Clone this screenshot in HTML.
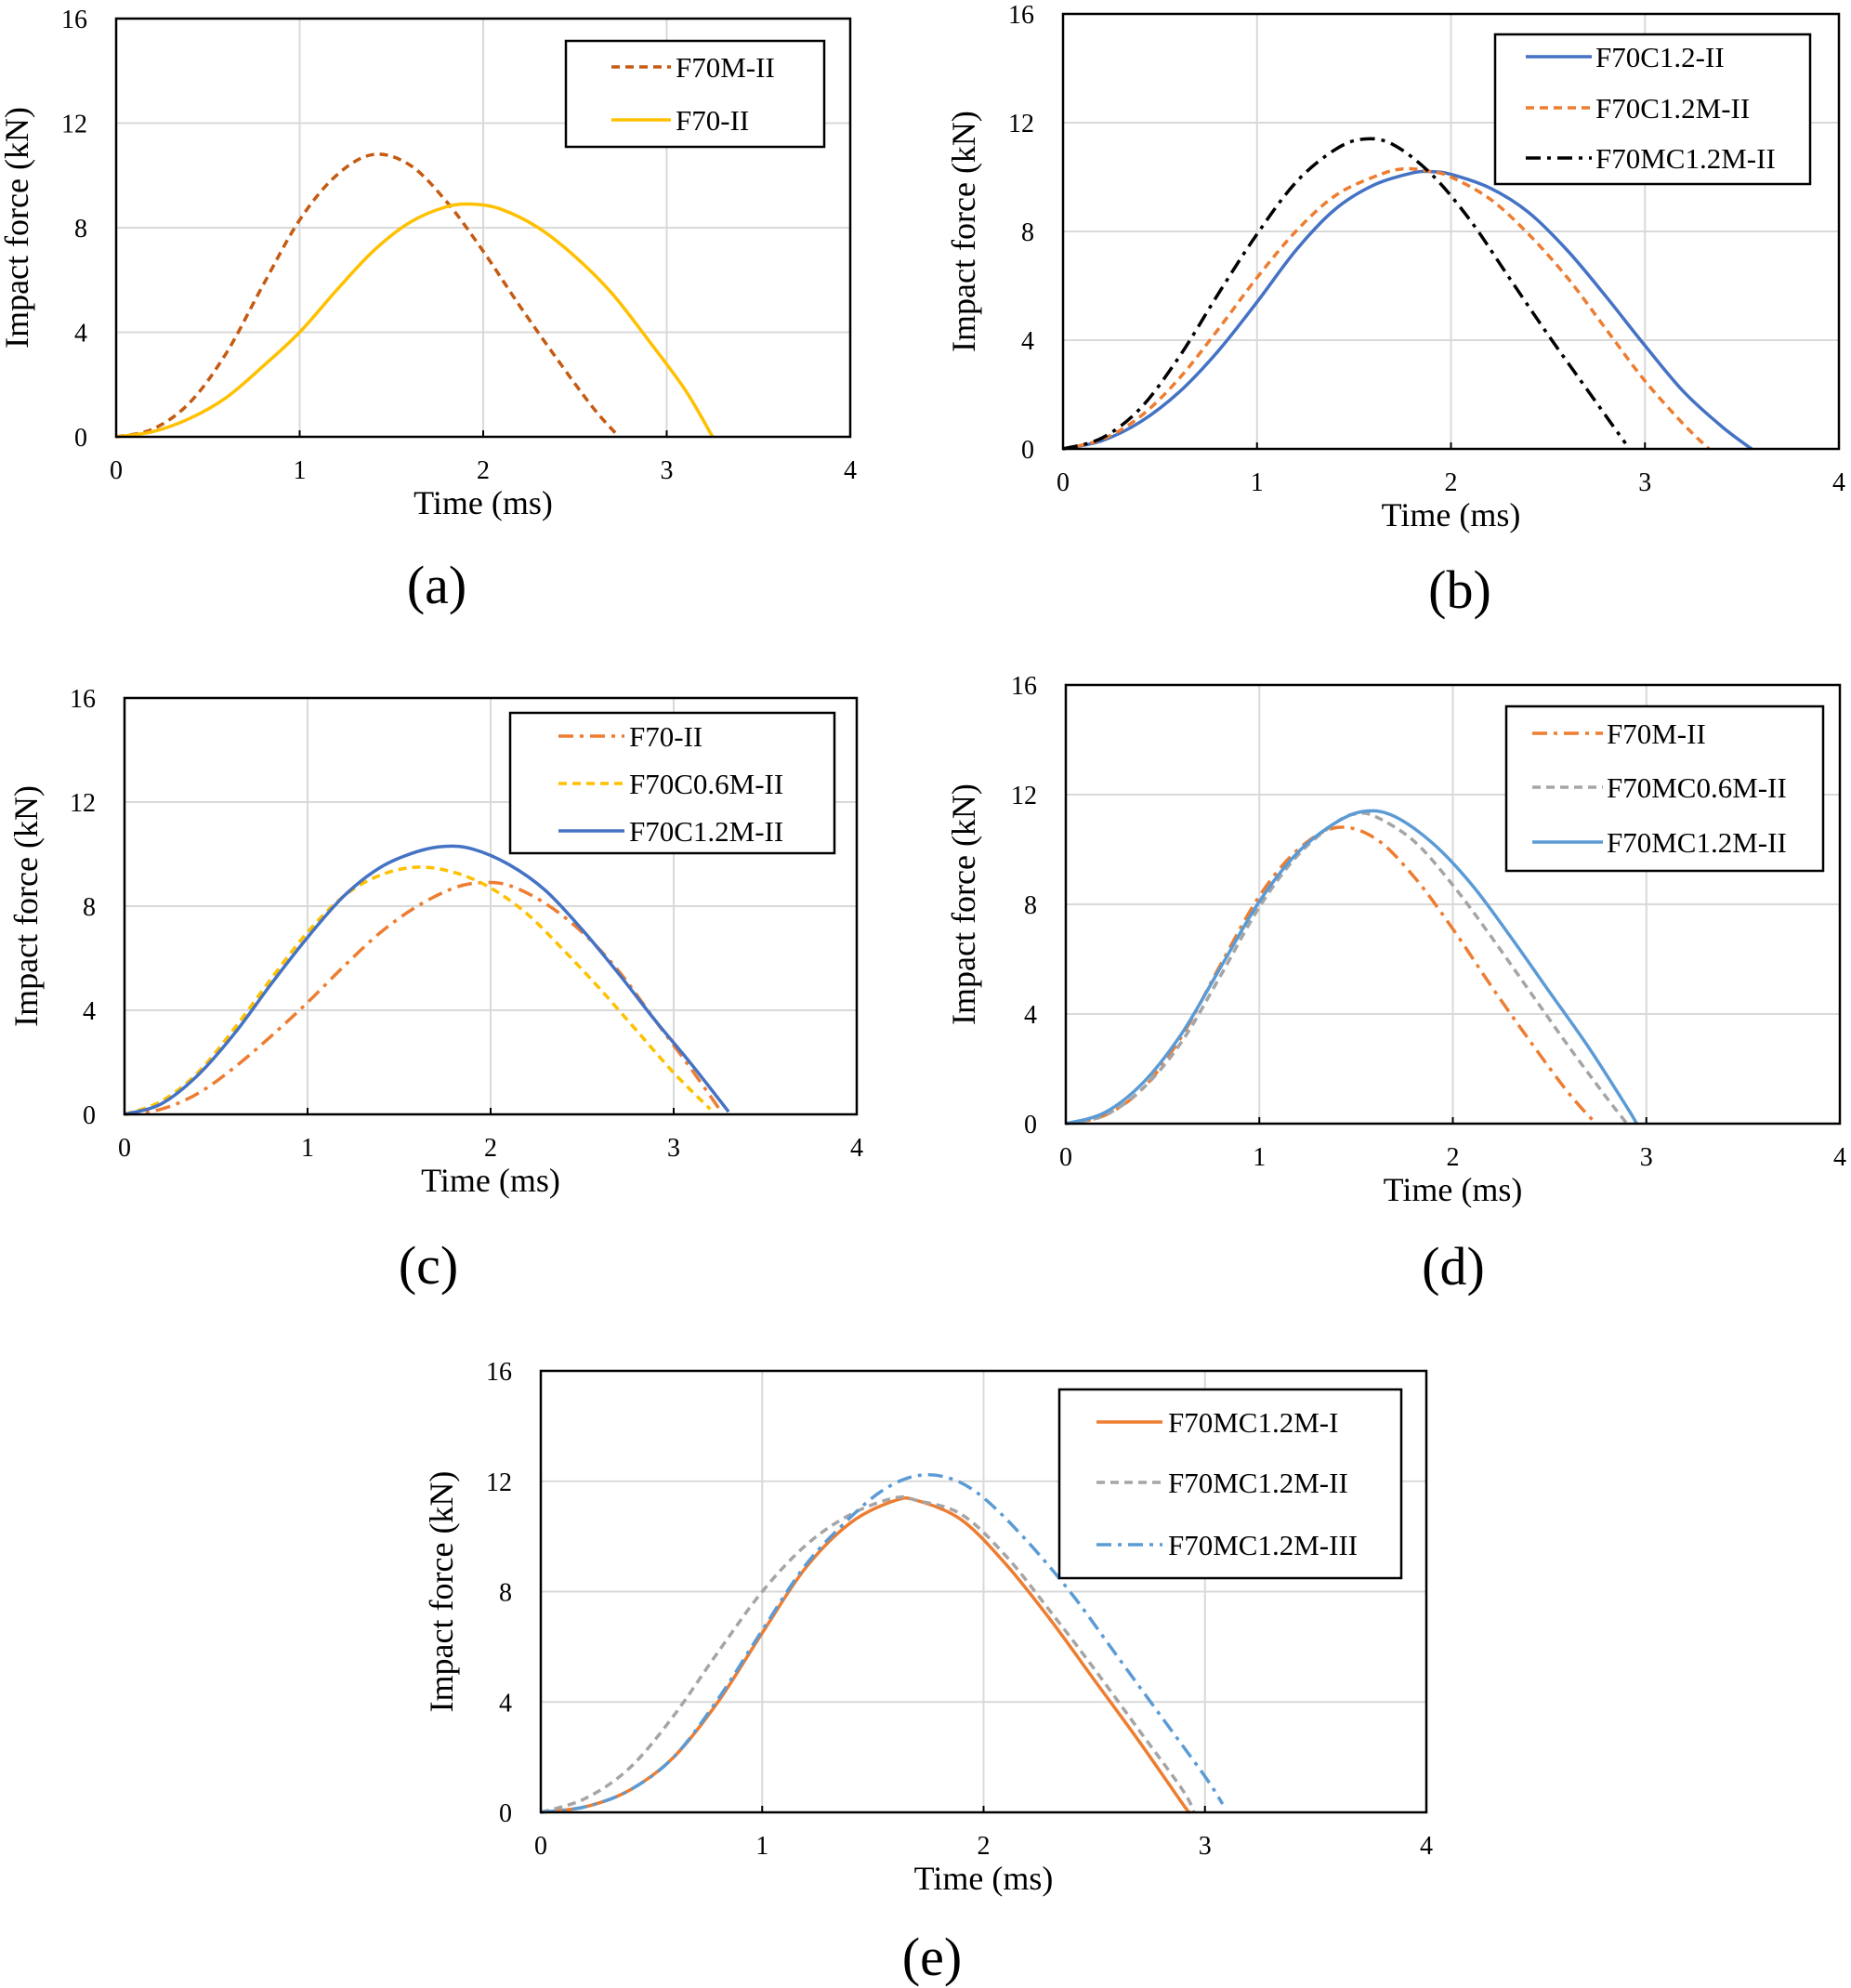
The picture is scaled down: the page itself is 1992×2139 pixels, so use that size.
<!DOCTYPE html>
<html><head><meta charset="utf-8"><style>
html,body{margin:0;padding:0;background:#fff}
svg{display:block;font-family:"Liberation Serif",serif}
</style></head><body>
<svg id="fig" width="1992" height="2139" viewBox="0 0 1992 2139" xmlns="http://www.w3.org/2000/svg"></svg>
<script>
// ---- data ----
const aM_t=[0,0.2,0.4,0.6,0.8,1.0,1.2,1.4,1.6,1.8,2.0,2.2,2.4,2.6,2.74];
const aM_f=[0,0.3,1.3,3.2,5.8,8.3,10.0,10.8,10.4,9.0,7.1,5.0,3.0,1.1,0];
const a70_t=[0,0.2,0.4,0.6,0.8,1.0,1.2,1.4,1.6,1.8,1.95,2.1,2.3,2.5,2.7,2.9,3.1,3.25];
const a70_f=[0,0.2,0.7,1.5,2.7,4.0,5.6,7.1,8.2,8.8,8.9,8.7,8.0,6.9,5.5,3.7,1.8,0];
const b1_t=[0,0.2,0.4,0.6,0.8,1.0,1.2,1.4,1.6,1.8,1.9,2.0,2.2,2.4,2.6,2.8,3.0,3.2,3.4,3.55];
const b1_f=[0,0.3,1.0,2.1,3.6,5.4,7.3,8.8,9.7,10.15,10.2,10.1,9.6,8.7,7.3,5.6,3.8,2.1,0.8,0];
const b2_t=[0,0.2,0.4,0.6,0.8,1.0,1.2,1.4,1.6,1.75,1.9,2.0,2.2,2.4,2.6,2.8,3.0,3.2,3.33];
const b2_f=[0,0.35,1.2,2.6,4.4,6.3,8.0,9.3,10.0,10.3,10.2,10.0,9.2,7.9,6.3,4.4,2.5,0.9,0];
const b3_t=[0,0.2,0.4,0.6,0.8,1.0,1.2,1.4,1.55,1.7,1.9,2.1,2.3,2.5,2.7,2.9];
const b3_f=[0,0.4,1.5,3.4,5.7,7.9,9.8,11.0,11.4,11.2,10.1,8.4,6.3,4.2,2.2,0.2];
const c1_t=[0,0.2,0.4,0.6,0.8,1.0,1.2,1.4,1.6,1.8,1.95,2.1,2.3,2.5,2.7,2.9,3.1,3.25];
const c1_f=[0,0.2,0.8,1.8,3.0,4.3,5.7,7.0,8.0,8.7,8.9,8.8,8.1,7.0,5.5,3.6,1.7,0.2];
const c2_t=[0,0.2,0.4,0.6,0.8,1.0,1.2,1.4,1.6,1.8,2.0,2.2,2.4,2.6,2.8,3.0,3.2];
const c2_f=[0,0.5,1.6,3.3,5.2,7.0,8.4,9.2,9.5,9.3,8.7,7.7,6.3,4.8,3.2,1.6,0.2];
const c3_t=[0,0.2,0.4,0.6,0.8,1.0,1.2,1.4,1.6,1.75,1.9,2.1,2.3,2.5,2.7,2.9,3.1,3.3];
const c3_f=[0,0.4,1.5,3.1,5.0,6.8,8.4,9.5,10.1,10.3,10.2,9.6,8.6,7.1,5.4,3.6,1.9,0.1];
const d1_t=[0,0.2,0.4,0.6,0.8,1.0,1.2,1.4,1.6,1.8,2.0,2.2,2.4,2.6,2.74];
const d1_f=[0,0.3,1.3,3.2,5.8,8.3,10.0,10.8,10.4,9.0,7.1,5.0,3.0,1.1,0];
const d2_t=[0,0.2,0.4,0.6,0.8,1.0,1.2,1.4,1.5,1.6,1.8,2.0,2.2,2.4,2.6,2.8,2.9];
const d2_f=[0,0.3,1.3,3.0,5.4,7.9,9.8,11.0,11.3,11.2,10.3,8.7,6.8,4.8,2.8,0.9,0];
const d3_t=[0,0.2,0.4,0.6,0.8,1.0,1.2,1.4,1.55,1.7,1.9,2.1,2.3,2.5,2.7,2.9,2.95];
const d3_f=[0,0.4,1.5,3.3,5.7,8.1,9.9,11.0,11.4,11.2,10.2,8.7,6.8,4.8,2.8,0.6,0];
const e1_t=[0,0.2,0.4,0.6,0.8,1.0,1.2,1.4,1.6,1.7,1.9,2.1,2.3,2.5,2.7,2.9,2.93];
const e1_f=[0,0.2,0.8,2.0,4.0,6.5,8.9,10.5,11.3,11.3,10.6,9.0,7.0,4.8,2.6,0.3,0];
const e2_t=[0,0.2,0.4,0.6,0.8,1.0,1.2,1.4,1.6,1.7,1.9,2.1,2.3,2.5,2.7,2.9,2.95];
const e2_f=[0,0.5,1.6,3.5,5.8,8.0,9.7,10.8,11.4,11.3,10.8,9.3,7.3,5.2,3.0,0.8,0];
const e3_t=[0,0.2,0.4,0.6,0.8,1.0,1.2,1.4,1.55,1.7,1.85,2.0,2.2,2.4,2.6,2.8,3.0,3.08];
const e3_f=[0,0.2,0.8,2.0,4.1,6.6,9.0,10.7,11.7,12.2,12.1,11.4,9.8,7.9,5.7,3.5,1.3,0.3];
const xTicks=[0,1,2,3,4];
const yTicks=[0,4,8,12,16];

const NS="http://www.w3.org/2000/svg";
const svg=document.getElementById('fig');
function mk(tag,attrs,parent){const e=document.createElementNS(NS,tag);for(const k in attrs)e.setAttribute(k,attrs[k]);(parent||svg).appendChild(e);return e;}
const DASH={solid:'',dash:'9 6',dashdot:'16 7 4 7'};
function smooth(pts){
  let d='M'+pts[0][0].toFixed(1)+','+pts[0][1].toFixed(1);
  for(let i=0;i<pts.length-1;i++){
    const p0=pts[Math.max(0,i-1)],p1=pts[i],p2=pts[i+1],p3=pts[Math.min(pts.length-1,i+2)];
    const c1=[p1[0]+(p2[0]-p0[0])/6,p1[1]+(p2[1]-p0[1])/6];
    const c2=[p2[0]-(p3[0]-p1[0])/6,p2[1]-(p3[1]-p1[1])/6];
    d+='C'+c1.map(v=>v.toFixed(1))+' '+c2.map(v=>v.toFixed(1))+' '+p2.map(v=>v.toFixed(1));
  }
  return d;
}

function panel(p){
  const g=mk('g',{});
  
  
  const X=v=>p.l+(p.r-p.l)*v/4, Y=v=>p.b-(p.b-p.t)*v/16;
  xTicks.forEach(v=>{if(v>0&&v<4){const l=mk('line',{x1:X(v),x2:X(v),y1:p.t,y2:p.b,stroke:'#d9d9d9','stroke-width':2},g);}});
  yTicks.forEach(v=>{if(v>0&&v<16){const l=mk('line',{x1:p.l,x2:p.r,y1:Y(v),y2:Y(v),stroke:'#d9d9d9','stroke-width':2},g);}});
  p.series.forEach(s=>{
    const d=smooth(s.t.map((t,i)=>[X(t),Y(s.f[i])]));
    const path=mk('path',{d:d,fill:'none',stroke:s.c,'stroke-width':3.5,'stroke-dasharray':DASH[s.s]},g);
    
    
  });
  const fr=mk('rect',{x:p.l,y:p.t,width:p.r-p.l,height:p.b-p.t,fill:'none',stroke:'#000','stroke-width':2.5},g);
  
  
  xTicks.forEach(v=>{
    if(v>0&&v<4){mk('line',{x1:X(v),x2:X(v),y1:p.b,y2:p.b-7,stroke:'#000','stroke-width':2},g);}
    const t=mk('text',{x:X(v),y:p.b+45,'font-size':28,'text-anchor':'middle'},g);t.textContent=v;
    
    
  });
  yTicks.forEach(v=>{
    const t=mk('text',{x:p.l-31,y:Y(v)+10,'font-size':28,'text-anchor':'end'},g);t.textContent=v;
    
    
  });
  const xt=mk('text',{x:(p.l+p.r)/2,y:p.b+83,'font-size':36,'text-anchor':'middle'},g);xt.textContent='Time (ms)';
  
  
  const yc=(p.t+p.b)/2;
  const yt=mk('text',{x:p.yx,y:yc,'font-size':36,'text-anchor':'middle',transform:`rotate(-90 ${p.yx} ${yc})`},g);yt.textContent='Impact force (kN)';
  
  
  const L=p.leg;
  const lb=mk('rect',{x:L.x1,y:L.y1,width:L.x2-L.x1,height:L.y2-L.y1,fill:'#fff',stroke:'#000','stroke-width':2.5},g);
  
  
  p.series.forEach((s,i)=>{
    const y=L.ys[i];
    mk('line',{x1:L.lx1,x2:L.lx2,y1:y,y2:y,stroke:s.c,'stroke-width':3.5,'stroke-dasharray':DASH[s.s]},g);
    const t=mk('text',{x:L.tx,y:y+11,'font-size':31},g);t.textContent=s.n;
    
    
  });
  const cap=mk('text',{x:p.cap[0],y:p.cap[1]+20,'font-size':58,'text-anchor':'middle'},g);cap.textContent='('+p.id+')';
  
  
}

panel({id:'a',l:125,t:20,r:915,b:470,yx:30,cap:[470,629],
  leg:{x1:609,y1:44,x2:887,y2:158,ys:[72,129],lx1:658,lx2:722,tx:727},
  series:[{n:'F70M-II',t:aM_t,f:aM_f,c:'#c55a11',s:'dash'},{n:'F70-II',t:a70_t,f:a70_f,c:'#ffc000',s:'solid'}]});
panel({id:'b',l:1144,t:15,r:1979,b:483,yx:1049,cap:[1571,634],
  leg:{x1:1609,y1:37,x2:1948,y2:198,ys:[61,116,170],lx1:1642,lx2:1713,tx:1717},
  series:[{n:'F70C1.2-II',t:b1_t,f:b1_f,c:'#4472c4',s:'solid'},{n:'F70C1.2M-II',t:b2_t,f:b2_f,c:'#ed7d31',s:'dash'},{n:'F70MC1.2M-II',t:b3_t,f:b3_f,c:'#000',s:'dashdot'}]});
panel({id:'c',l:134,t:751,r:922,b:1199,yx:40,cap:[461,1361],
  leg:{x1:549,y1:767,x2:898,y2:918,ys:[792,843,894],lx1:601,lx2:672,tx:677},
  series:[{n:'F70-II',t:c1_t,f:c1_f,c:'#ed7d31',s:'dashdot'},{n:'F70C0.6M-II',t:c2_t,f:c2_f,c:'#ffc000',s:'dash'},{n:'F70C1.2M-II',t:c3_t,f:c3_f,c:'#4472c4',s:'solid'}]});
panel({id:'d',l:1147,t:737,r:1980,b:1209,yx:1049,cap:[1564,1362],
  leg:{x1:1621,y1:760,x2:1962,y2:937,ys:[789,847,906],lx1:1649,lx2:1725,tx:1729},
  series:[{n:'F70M-II',t:d1_t,f:d1_f,c:'#ed7d31',s:'dashdot'},{n:'F70MC0.6M-II',t:d2_t,f:d2_f,c:'#a5a5a5',s:'dash'},{n:'F70MC1.2M-II',t:d3_t,f:d3_f,c:'#5b9bd5',s:'solid'}]});
panel({id:'e',l:582,t:1475,r:1535,b:1950,yx:487,cap:[1003,2105],
  leg:{x1:1140,y1:1495,x2:1508,y2:1698,ys:[1530,1595,1662],lx1:1180,lx2:1251,tx:1257},
  series:[{n:'F70MC1.2M-I',t:e1_t,f:e1_f,c:'#ed7d31',s:'solid'},{n:'F70MC1.2M-II',t:e2_t,f:e2_f,c:'#a5a5a5',s:'dash'},{n:'F70MC1.2M-III',t:e3_t,f:e3_f,c:'#5b9bd5',s:'dashdot'}]});
</script>
</body></html>
